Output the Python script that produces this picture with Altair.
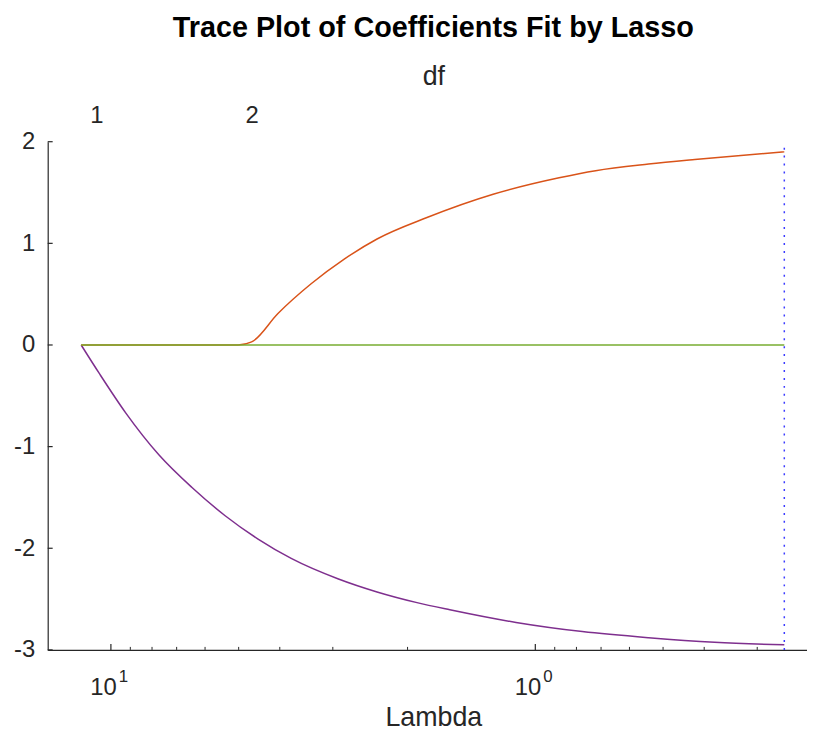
import altair as alt
import pandas as pd

# ---- data ----
PURPLE_LAMBDA = [11.75, 10.65, 9.22, 7.71, 6.45, 5.38, 4.50, 3.76, 2.92, 2.36,
                 1.90, 1.59, 1.11, 0.775, 0.541, 0.378, 0.259]
PURPLE_COEF = [0.0, -0.28, -0.67, -1.08, -1.40, -1.68, -1.91, -2.10, -2.30, -2.43,
               -2.535, -2.605, -2.73, -2.82, -2.88, -2.925, -2.95]

ORANGE_LAMBDA = [11.75, 5.01, 4.66, 4.04, 3.38, 2.82, 2.36, 1.80, 1.257, 0.879,
                 0.721, 0.541, 0.421, 0.259]
ORANGE_COEF = [0.0, 0.0, 0.03, 0.31, 0.60, 0.845, 1.043, 1.254, 1.483, 1.645,
               1.715, 1.78, 1.825, 1.90]

GREEN_LAMBDA = [11.75, 0.259]
GREEN_COEF = [0.0, 0.0]

SELECTED_LAMBDA = [0.259]
DF_LAMBDA = [10.82, 4.66]
DF_LABELS = ["1", "2"]

Y_TICKS = [-3, -2, -1, 0, 1, 2]
X_MAJOR = [10, 1]
X_MAJOR_BASE = ["10", "10"]
X_MAJOR_EXP = ["1", "0"]
X_MINOR = [2, 3, 4, 5, 6, 7, 8, 9, 0.3, 0.4, 0.5, 0.6, 0.7, 0.8, 0.9]

X_DOMAIN = [0.229, 14.09]
Y_DOMAIN = [-3, 2]

W, H = 765, 512
FONT = "Liberation Sans"
AX = "#262626"

xscale = alt.Scale(type="log", domain=X_DOMAIN, reverse=True, nice=False)
yscale = alt.Scale(domain=Y_DOMAIN, nice=False, zero=False)


def expr_map(values, labels):
    e = "''"
    for v, l in zip(reversed(values), reversed(labels)):
        e = f"abs(datum.value - {v}) < 1e-6 ? '{l}' : ({e})"
    return e


bottom_axis = alt.Axis(
    orient="bottom", values=X_MAJOR, labels=False,
    ticks=False, grid=False, domain=True, domainColor=AX, domainWidth=1.2,
    title="Lambda", titleFont=FONT, titleFontSize=27, titleFontWeight="normal",
    titleColor=AX, titlePadding=55, titleX=W / 2 + 6,
)
left_axis = alt.Axis(
    orient="left", values=Y_TICKS, ticks=False, grid=False, domain=True,
    domainColor=AX, domainWidth=1.2, labelFont=FONT, labelFontSize=24,
    labelColor=AX, labelPadding=13, title=None,
    labelExpr="datum.value < 0 ? '-' + abs(datum.value) : '' + datum.value",
)
top_axis = alt.Axis(
    orient="top", values=DF_LAMBDA, labelExpr=expr_map(DF_LAMBDA, DF_LABELS),
    ticks=False, grid=False, domain=False, labelFont=FONT, labelFontSize=24,
    labelColor=AX, labelPadding=14, title="df", titleFont=FONT,
    titleFontSize=27, titleFontWeight="normal", titleColor=AX, titlePadding=14,
    titleX=W / 2 + 6,
)


def line(lams, coefs, color, xaxis=None, yaxis=None):
    df = pd.DataFrame({"Lambda": lams, "coef": coefs})
    return alt.Chart(df).mark_line(
        color=color, strokeWidth=1.5, interpolate="monotone"
    ).encode(
        x=alt.X("Lambda:Q", scale=xscale, axis=xaxis),
        y=alt.Y("coef:Q", scale=yscale, axis=yaxis),
    )


purple = line(PURPLE_LAMBDA, PURPLE_COEF, "#7E2F8E", bottom_axis, left_axis)
orange = line(ORANGE_LAMBDA, ORANGE_COEF, "#D95319")
green = line(GREEN_LAMBDA, GREEN_COEF, "#77AC30")

sel = alt.Chart(pd.DataFrame({"Lambda": SELECTED_LAMBDA,
                              "lo": [Y_DOMAIN[0]], "hi": [Y_DOMAIN[1]]})).mark_rule(
    color="#3a3aff", strokeWidth=1.5, strokeDash=[2, 6]
).encode(
    x=alt.X("Lambda:Q", scale=xscale, axis=None),
    y=alt.Y("lo:Q", scale=yscale, axis=None),
    y2="hi:Q",
)

top = alt.Chart(pd.DataFrame({"Lambda": DF_LAMBDA})).mark_point(opacity=0).encode(
    x=alt.X("Lambda:Q", scale=xscale, axis=top_axis),
)

yt = alt.Chart(pd.DataFrame({"v": Y_TICKS})).mark_rule(color=AX, strokeWidth=1.2).encode(
    y=alt.Y("v:Q", scale=yscale, axis=None),
    x=alt.value(0), x2=alt.value(5),
)
xmaj = alt.Chart(pd.DataFrame({"v": X_MAJOR})).mark_rule(color=AX, strokeWidth=1.2).encode(
    x=alt.X("v:Q", scale=xscale, axis=None),
    y=alt.value(H), y2=alt.value(H - 6),
)
xmin = alt.Chart(pd.DataFrame({"v": X_MINOR})).mark_rule(color=AX, strokeWidth=1).encode(
    x=alt.X("v:Q", scale=xscale, axis=None),
    y=alt.value(H), y2=alt.value(H - 3),
)

lab_df = pd.DataFrame({"v": X_MAJOR, "base": X_MAJOR_BASE, "exp": X_MAJOR_EXP})
xlab_base = alt.Chart(lab_df).mark_text(
    font=FONT, fontSize=24, color=AX, align="right", baseline="alphabetic", dx=6, dy=45
).encode(
    x=alt.X("v:Q", scale=xscale, axis=None), y=alt.value(H), text="base:N",
)
xlab_exp = alt.Chart(lab_df).mark_text(
    font=FONT, fontSize=17, color=AX, align="left", baseline="alphabetic", dx=8, dy=32
).encode(
    x=alt.X("v:Q", scale=xscale, axis=None), y=alt.value(H), text="exp:N",
)

chart = alt.layer(
    purple, orange, green, sel, top, yt, xmaj, xmin, xlab_base, xlab_exp
).resolve_axis(
    x="independent", y="independent"
).properties(
    width=W, height=H,
    title=alt.TitleParams(
        "Trace Plot of Coefficients Fit by Lasso", font=FONT, fontSize=29,
        fontWeight="bold", color="black", anchor="middle", baseline="bottom",
        offset=14, dx=6, dy=23,
    ),
    autosize=alt.AutoSizeParams(type="none"),
    padding={"left": 40, "top": 132, "right": 0, "bottom": 79},
).configure(background="white").configure_view(stroke=None)

chart.save("out.html", embed_options={"renderer": "svg", "actions": False})
